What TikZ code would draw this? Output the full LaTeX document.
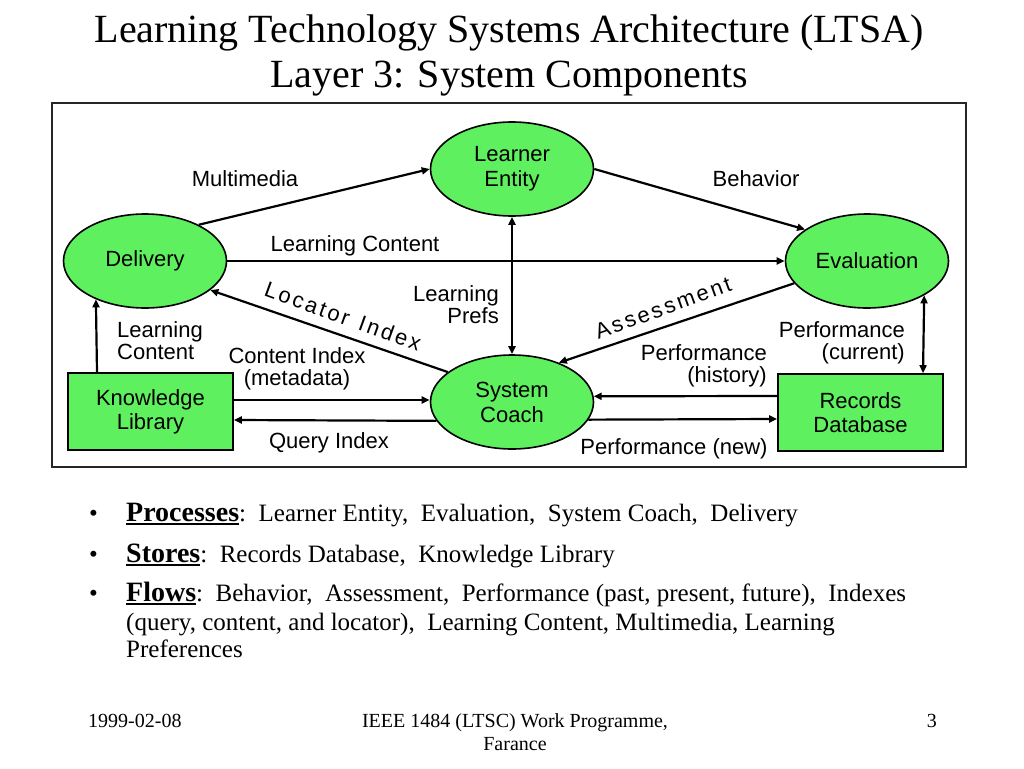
\documentclass[tikz,border=0pt]{standalone}
\usepackage{fontspec}
\setmainfont{Liberation Serif}
\newfontfamily\arial{Liberation Sans}
\usetikzlibrary{shapes.geometric,arrows.meta}
\definecolor{boxgreen}{RGB}{95,240,95}
\newcommand\myul[1]{\setbox0\hbox{#1}\rlap{\rule[-4pt]{\wd0}{2.5pt}}\box0}
\newcommand\lsk{\kern2.6pt}
\begin{document}
\begin{tikzpicture}[x=1pt,y=-1pt,
  proc/.style={ellipse,draw,line width=1.6pt,fill=boxgreen,minimum width=163pt,minimum height=94pt,inner sep=0pt,align=center,font=\arial\fontsize{22}{25}\selectfont},
  store/.style={rectangle,draw,line width=1.6pt,fill=boxgreen,minimum width=165pt,minimum height=77pt,inner sep=0pt,align=center,font=\arial\fontsize{22}{24}\selectfont},
  flow/.style={line width=2.2pt,-{Triangle[length=8pt,width=7pt]}},
  both/.style={line width=2.2pt,{Triangle[length=8pt,width=7pt]}-{Triangle[length=8pt,width=7pt]}},
  lbl/.style={inner sep=0pt,font=\arial\fontsize{22}{22}\selectfont},
  ttl/.style={inner sep=0pt,anchor=base,font=\fontsize{40}{46}\selectfont},
  bul/.style={inner sep=0pt,anchor=base west,font=\fontsize{25}{27}\selectfont},
  foot/.style={inner sep=0pt,anchor=base,font=\fontsize{20}{23}\selectfont}
]
\useasboundingbox (0,0) rectangle (1024,768);
% title
\node[ttl] (t1) at (509,42) {Learning Technology Systems Architecture (LTSA)};
\node[ttl] (t2) at (509,87) {Layer 3: System Components};
% frame
\draw[line width=2pt,black!85] (52,103) rectangle (966,467);
% processes and stores
\node[proc] (le) at (512,169) {Learner\\Entity};
\node[proc] (dl) at (145,261) {Delivery};
\node[proc] (ev) at (867,261) {Evaluation};
\node[proc] (sc) at (512,402) {System\\Coach};
\node[store] (kl) at (150.5,411.5) {Knowledge\\Library};
\node[store] (rd) at (860.5,412.5) {Records\\Database};
% flows
\draw[flow] (dl.34) -- (le.west);
\draw[flow] (le.east) -- (ev.153);
\draw[flow] (dl.east) -- (ev.west);
\draw[both] (le.south) -- (sc.north);
\draw[flow] (sc.155) -- (dl.336);
\draw[flow] (ev.197) -- (sc.40);
\draw[both] (ev.329) -- ([xshift=62.5pt]rd.north);
\draw[flow] ([xshift=-53.5pt]kl.north) -- (dl.218);
\draw[flow] ([yshift=11.5pt]kl.east) -- ([yshift=2pt]sc.west);
\draw[flow] (sc.194) -- ([yshift=-8.5pt]kl.east);
\draw[flow] ([yshift=16.5pt]rd.west) -- (sc.4);
\draw[flow] (sc.347) -- ([yshift=-6.5pt]rd.west);
% labels
\node[lbl] (lMM) at (245,179) {Multimedia};
\node[lbl] (lBe) at (756,179) {Behavior};
\node[lbl] (lLC) at (355,246) {Learning Content};
\node[lbl,align=right,anchor=east] (lLP) at (499,305) {Learning\\Prefs};
\node[lbl,align=left,anchor=west] (lLC2) at (117,341) {Learning\\Content};
\node[lbl,align=center] (lCI) at (297,369) {Content Index\\(metadata)};
\node[lbl] (lQI) at (329,443) {Query Index};
\node[lbl,align=right,anchor=east] (lPH) at (767,366) {Performance\\(history)};
\node[lbl,align=right,anchor=east] (lPC) at (905,343) {Performance\\(current)};
\node[lbl] (lPN) at (674,449) {Performance (new)};
\node[lbl,rotate=-20] (lLI) at (343,316) {L\lsk o\lsk c\lsk a\lsk t\lsk o\lsk r\lsk\ \lsk I\lsk n\lsk d\lsk e\lsk x};
\node[lbl,rotate=20] (lAs) at (663,308) {A\lsk s\lsk s\lsk e\lsk s\lsk s\lsk m\lsk e\lsk n\lsk t};
% bullets
\node[bul] (d1) at (89,521) {\textbullet};
\node[bul] (d2) at (89,562) {\textbullet};
\node[bul] (d3) at (89,601) {\textbullet};
\node[bul] (b1) at (126,521) {{\fontsize{28}{30}\selectfont\bfseries\myul{Processes}}:\ \ Learner Entity,\ \ Evaluation,\ \ System Coach,\ \ Delivery};
\node[bul] (b2) at (126,562) {{\fontsize{28}{30}\selectfont\bfseries\myul{Stores}}:\ \ Records Database,\ \ Knowledge Library};
\node[bul] (b3) at (126,601) {{\fontsize{28}{30}\selectfont\bfseries\myul{Flows}}:\ \ Behavior,\ \ Assessment,\ \ Performance (past, present, future),\ \ Indexes};
\node[bul] (b4) at (126,630) {(query, content, and locator),\ \ Learning Content, Multimedia, Learning};
\node[bul] (b5) at (126,657) {Preferences};
% footer
\node[foot,anchor=base west] (f1) at (88,727) {1999-02-08};
\node[foot] (f2) at (515,727) {IEEE 1484 (LTSC) Work Programme,};
\node[foot] (f3) at (515,750) {Farance};
\node[foot,anchor=base east] (f4) at (937,727) {3};
\end{tikzpicture}
\end{document}
